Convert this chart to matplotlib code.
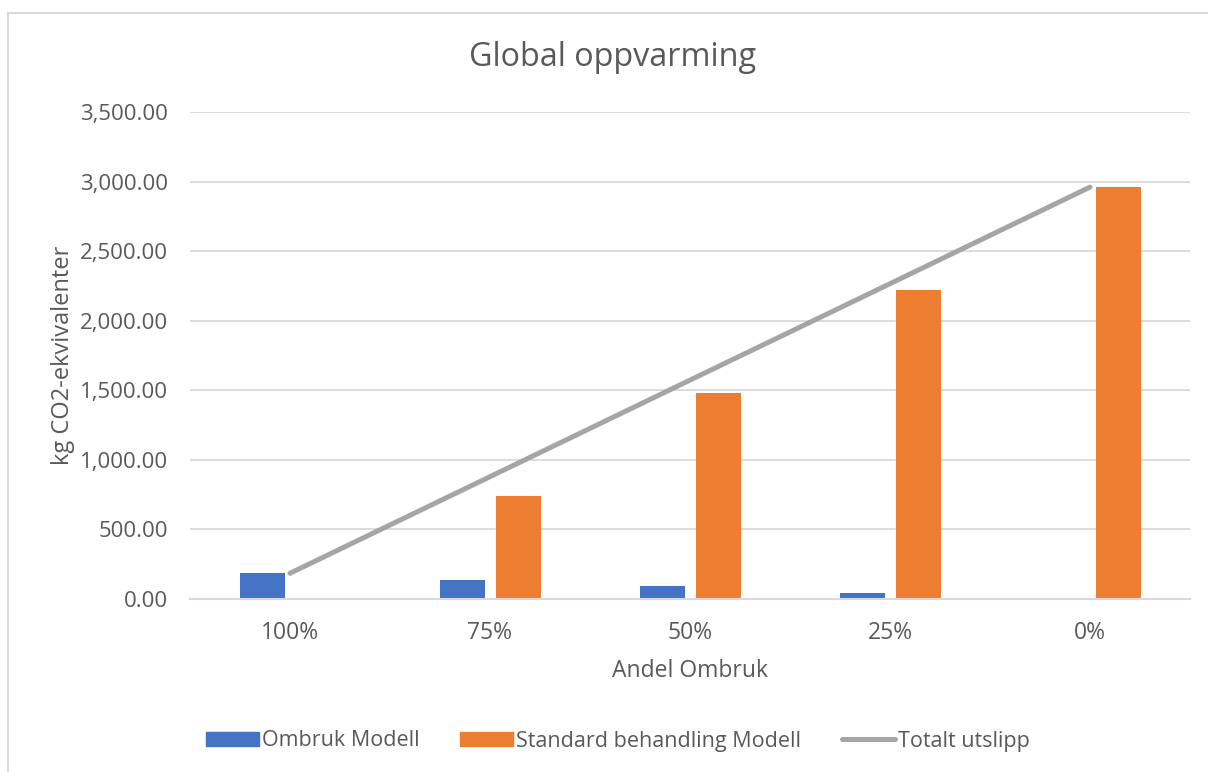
import numpy as np
import matplotlib.pyplot as plt
from matplotlib.patches import Patch
from matplotlib.lines import Line2D
from matplotlib.ticker import FuncFormatter

andel = ["100%", "75%", "50%", "25%", "0%"]
ombruk = [185, 139, 93, 46, 0]
standard = [0, 740, 1480, 2220, 2960]
totalt = [o + s for o, s in zip(ombruk, standard)]

BLUE = "#4472C4"
ORANGE = "#ED7D31"
GREY = "#A5A5A5"
TEXT = "#595959"
GRID = "#D9D9D9"

plt.rcParams['font.family'] = ['Open Sans', 'DejaVu Sans']


def plot():
    fig = plt.figure(figsize=(12.08, 7.72), dpi=100)
    ax = fig.add_axes([190 / 1208, 1 - 599 / 772, 1000 / 1208, 487 / 772])

    x = np.arange(len(andel))
    ax.bar(x - 0.14, ombruk, width=0.225, color=BLUE, zorder=2)
    ax.bar(x + 0.14, standard, width=0.225, color=ORANGE, zorder=2)
    ax.plot(x, totalt, color=GREY, lw=3.6, solid_capstyle='round', zorder=3)

    ax.set_xlim(-0.5, len(andel) - 0.5)
    ax.set_ylim(0, 3500)
    ax.set_yticks(np.arange(0, 3501, 500))
    ax.yaxis.set_major_formatter(FuncFormatter(lambda v, p: f"{v:,.2f}"))
    ax.set_xticks(x)
    ax.set_xticklabels(andel)
    ax.grid(axis='y', color=GRID, lw=1.3, zorder=0)
    for s in ['top', 'right', 'left']:
        ax.spines[s].set_visible(False)
    ax.spines['bottom'].set_color(GRID)
    ax.spines['bottom'].set_linewidth(1.5)
    ax.tick_params(axis='y', length=0, labelsize=16, colors=TEXT, pad=16)
    ax.tick_params(axis='x', length=0, labelsize=16.5, colors=TEXT, pad=16)

    ax.set_xlabel("Andel Ombruk", fontsize=16.5, color=TEXT, labelpad=10)
    ax.set_ylabel("kg CO2-ekvivalenter", fontsize=17, color=TEXT, labelpad=3)

    fig.text(613 / 1208, 1 - 58 / 772, "Global oppvarming", fontsize=23.3,
             color=TEXT, ha='center', va='center')

    handles = [Patch(color=BLUE), Patch(color=ORANGE),
               Line2D([], [], color=GREY, lw=3.6, solid_capstyle='round')]
    labels = ["Ombruk Modell", "Standard behandling Modell", "Totalt utslipp"]
    leg = fig.legend(handles, labels, loc='center', ncol=3,
                     bbox_to_anchor=(618 / 1208, 1 - 741 / 772),
                     frameon=False, fontsize=15.5, handlelength=2.45,
                     handleheight=0.65, handletextpad=0.15, columnspacing=1.9)
    for t in leg.get_texts():
        t.set_color(TEXT)

    # frame around the chart area
    fig.add_artist(Line2D([8 / 1208, 8 / 1208], [0, 1 - 13 / 772],
                          transform=fig.transFigure, color=GRID, lw=1.5))
    fig.add_artist(Line2D([8 / 1208, 1], [1 - 13 / 772, 1 - 13 / 772],
                          transform=fig.transFigure, color=GRID, lw=1.5))

    fig.savefig("out.png", dpi=100)


if __name__ == "__main__":
    plot()
